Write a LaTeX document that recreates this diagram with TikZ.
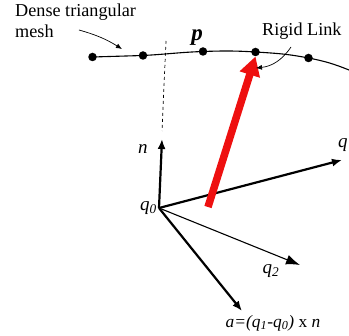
\documentclass[tikz,border=0pt]{standalone}
\usepackage{fontspec}
\setmainfont{Liberation Serif}
\usetikzlibrary{arrows.meta}
\definecolor{linkred}{RGB}{238,16,16}
\begin{document}
\begin{tikzpicture}[
    x=1pt,y=-1pt,
    meshdot/.style={circle,fill=black,inner sep=0pt,minimum size=8.5pt},
    label/.style={font=\fontsize{18.2}{21}\selectfont,inner sep=0pt,align=left},
    symb/.style={font=\fontsize{19}{22}\selectfont\itshape,inner sep=0pt},
    axis/.style={-{Latex[length=10pt,width=8pt]},line width=2.2pt},
    pointer/.style={-{Latex[length=6pt,width=5pt]},line width=0.7pt}
  ]
    \useasboundingbox (0,0) rectangle (349,336);

    \node[meshdot] (m1) at (92.5,57) {};
    \node[meshdot] (m2) at (143,55.5) {};
    \node[meshdot] (m3) at (203,51.5) {};
    \node[meshdot] (m4) at (255.5,52) {};
    \node[meshdot] (m5) at (308.5,58) {};
    \coordinate (m6) at (349,70);
    \draw[line width=1.1pt] (m1.center) -- (m2.center) to[out=3,in=182] (m3.center)
      to[out=2,in=176.5] (m4.center) to[out=-3.5,in=169] (m5.center) to[out=-11,in=158] (m6);

    \coordinate (q0) at (159,208);
    \coordinate (ntip) at (162,139);
    \coordinate (q1tip) at (342,160);
    \coordinate (q2tip) at (300,265);
    \coordinate (atip) at (242,311);
    \coordinate (redstart) at (208,207);
    \coordinate (dashtop) at (166,41);
    \coordinate (dashend) at (162,131);

    \draw[dashed,line width=0.7pt] (dashtop) -- (dashend);
    \draw[axis] (q0) -- (ntip);
    \draw[axis] (q0) -- (q1tip);
    \draw[-{Latex[length=14pt,width=10pt]},line width=1.1pt] (q0) -- (q2tip);
    \draw[axis] (q0) -- (atip);
    \draw[-{Triangle[length=19pt,width=20pt]},line width=7.5pt,linkred] (redstart) -- (m4.south);

    \node[label,anchor=north west] (mesh) at (15,3.5) {Dense triangular\\mesh};
    \node[label,anchor=west] (rigid) at (262,31) {Rigid Link};
    \coordinate (meshfrom) at (79,30);
    \coordinate (meshto) at (122,49);
    \coordinate (rigidfrom) at (291,47);
    \coordinate (rigidto) at (256,68);
    \draw[pointer] (meshfrom) to[bend left=8] (meshto);
    \draw[pointer] (rigidfrom) to[bend left=25] (rigidto);

    \node[font=\fontsize{23}{26}\selectfont\bfseries\itshape,inner sep=0pt] (p) at (197,38) {p};
    \node[symb] (n) at (143,149) {n};
    \node[symb] (q0label) at (148.5,208) {q\textsubscript{0}};
    \node[symb,anchor=west] (q1label) at (338,145) {q};
    \node[symb] (q2label) at (271,271) {q\textsubscript{2}};
    \node[inner sep=0pt,font=\fontsize{17.4}{20}\selectfont] (alabel) at (273,323)
      {\textit{a=(q\textsubscript{1}-q\textsubscript{0})} x \textit{n}};
  \end{tikzpicture}
\end{document}
